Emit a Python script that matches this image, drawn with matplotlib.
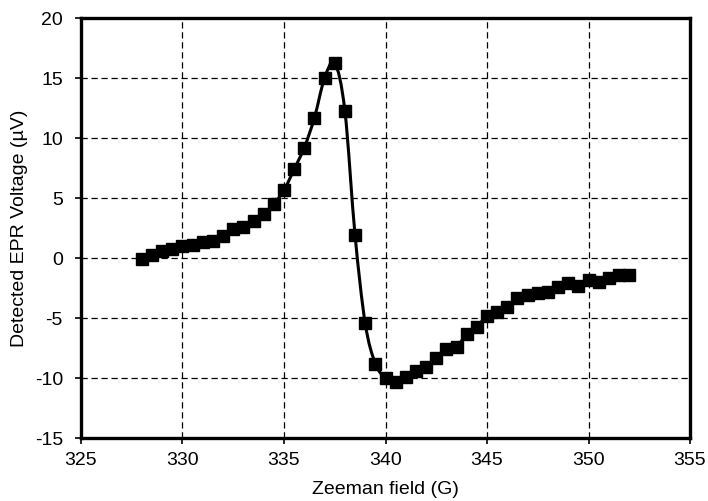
import numpy as np
import matplotlib
matplotlib.use("Agg")
import matplotlib.pyplot as plt
from matplotlib.path import Path
from matplotlib.patches import PathPatch

# Zeeman field (G) and detected EPR voltage (uV)
field = [328.0, 328.5, 329.0, 329.5, 330.0, 330.5, 331.0, 331.5, 332.0, 332.5,
         333.0, 333.5, 334.0, 334.5, 335.0, 335.5, 336.0, 336.5, 337.0, 337.5,
         338.0, 338.5, 339.0, 339.5, 340.0, 340.5, 341.0, 341.5, 342.0, 342.5,
         343.0, 343.5, 344.0, 344.5, 345.0, 345.5, 346.0, 346.5, 347.0, 347.5,
         348.0, 348.5, 349.0, 349.5, 350.0, 350.5, 351.0, 351.5, 352.0]
voltage = [-0.05, 0.25, 0.55, 0.75, 1.0, 1.05, 1.35, 1.45, 1.85, 2.4,
           2.6, 3.1, 3.7, 4.5, 5.65, 7.4, 9.2, 11.7, 15.0, 16.25,
           12.25, 1.9, -5.45, -8.8, -10.0, -10.3, -9.95, -9.45, -9.1, -8.3,
           -7.6, -7.4, -6.35, -5.75, -4.8, -4.5, -4.1, -3.3, -3.1, -2.9,
           -2.85, -2.4, -2.1, -2.35, -1.8, -2.0, -1.7, -1.45, -1.45]

plt.rcParams['font.family'] = ['Liberation Sans', 'DejaVu Sans']
plt.rcParams['axes.unicode_minus'] = False

fig = plt.figure(figsize=(7.08, 5.01), dpi=100)
ax = fig.add_axes([0.1144, 0.1257, 0.8602, 0.8383])

# smoothed line (Excel style) drawn as bezier path through the points
x = np.array(field)
y = np.array(voltage)
verts = [(x[0], y[0])]
codes = [Path.MOVETO]
for i in range(len(x) - 1):
    p0 = np.array([x[max(i - 1, 0)], y[max(i - 1, 0)]])
    p1 = np.array([x[i], y[i]])
    p2 = np.array([x[i + 1], y[i + 1]])
    p3 = np.array([x[min(i + 2, len(x) - 1)], y[min(i + 2, len(x) - 1)]])
    c1 = p1 + (p2 - p0) / 6.0
    c2 = p2 - (p3 - p1) / 6.0
    verts += [tuple(c1), tuple(c2), tuple(p2)]
    codes += [Path.CURVE4] * 3
ax.add_patch(PathPatch(Path(verts, codes), facecolor='none', edgecolor='black',
                       lw=2.2, zorder=3))
ax.plot(field, voltage, linestyle='none', marker='s', markersize=8.5,
        color='black', zorder=4)

ax.set_xlim(325, 355)
ax.set_ylim(-15, 20)
ax.set_xticks(range(325, 356, 5))
ax.set_yticks(range(-15, 21, 5))
ax.grid(True, color='black', linestyle=(0, (5, 3)), linewidth=0.9)
for s in ax.spines.values():
    s.set_linewidth(2.4)
ax.tick_params(direction='out', length=4, width=1.2, labelsize=14, colors='black')
ax.tick_params(axis='x', pad=6)
ax.tick_params(axis='y', pad=9)
ax.set_xlabel("Zeeman field (G)", fontsize=14, labelpad=9)
ax.set_ylabel("Detected EPR Voltage (µV)", fontsize=14, labelpad=5)

fig.savefig("out.png", dpi=100)
